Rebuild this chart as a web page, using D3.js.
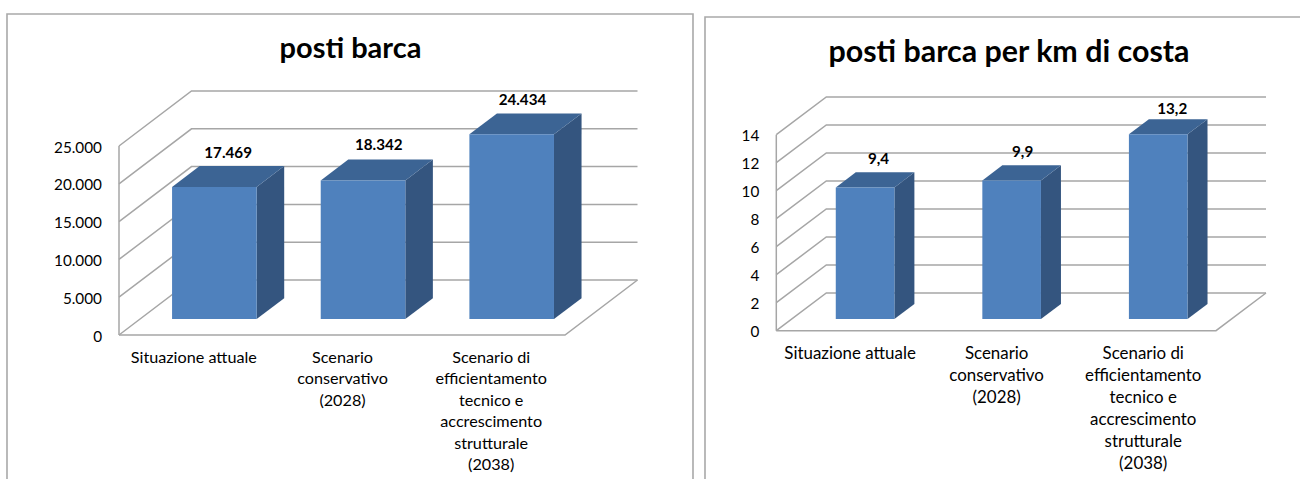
<!DOCTYPE html>
<html><head><meta charset="utf-8">
<style>html,body{margin:0;padding:0;background:#fff}svg{display:block}text{font-family:Lato,"Open Sans",sans-serif;fill:#000}</style>
<script src="https://cdn.jsdelivr.net/npm/d3@7"></script></head>
<body><svg id="c" width="1300" height="479"></svg>
<script>
const categories=["Situazione attuale","Scenario conservativo (2028)","Scenario di efficientamento tecnico e accrescimento strutturale (2038)"];
const categoryLines=[["Situazione attuale"],["Scenario","conservativo","(2028)"],["Scenario di","efficientamento","tecnico e","accrescimento","strutturale","(2038)"]];
const postiBarca=[17469,18342,24434];
const postiBarcaKm=[9.4,9.9,13.2];
const ticksLeft=[0,5000,10000,15000,20000,25000];
const ticksRight=[0,2,4,6,8,10,12,14];
const itInt=d3.formatLocale({decimal:",",thousands:".",grouping:[3],currency:["€",""]});
const fmtInt=itInt.format(",.0f"), fmtDec=itInt.format(".1f");
const svg=d3.select("#c");
const GRID="#a6a6a6",FRONT="#4f81bd",TOP="#3c6494",SIDE="#34557f";

function panel(o){
  const g=svg.append("g");
  g.append("path").attr("d",`M${o.frame[0]},479V${o.frame[1]}H${o.frame[2]}V479`).attr("fill","none").attr("stroke","#a9a9a9").attr("stroke-width",1.6);
  g.append("text").attr("x",o.titleX).attr("y",o.titleY).attr("text-anchor","middle").attr("font-size",o.titleSize).attr("font-weight",700).text(o.title);
  const x=d3.scaleBand().domain(categories).range([o.x0,o.x1]).paddingInner(o.pad).paddingOuter(o.pad/2);
  const y=d3.scaleLinear().domain(o.domain).range([o.y0,o.yTop]);
  const px=(sx,z)=>sx+z*o.dx, py=(sy,z)=>sy-z*o.dy;
  const line=d3.line();
  const stroke=(pts,w)=>g.append("path").attr("d",line(pts)).attr("fill","none").attr("stroke",GRID).attr("stroke-width",w||1.5);
  stroke([[o.x0,y(o.domain[1])],[o.x0,o.y0]]);
  o.ticks.forEach(t=>{
    const yy=y(t);
    stroke([[o.x0,yy],[px(o.x0,1),py(yy,1)],[px(o.x1,1),py(yy,1)]]);
    g.append("text").attr("x",o.x0-17).attr("y",yy+6.5).attr("text-anchor","end").attr("font-size",15.3).text(o.tickFmt(t));
  });
  stroke([[o.x0,o.y0],[o.x1,o.y0],[px(o.x1,1),py(o.y0,1)]]);
  const poly=(pts,f)=>g.append("path").attr("d",line(pts)+"Z").attr("fill",f);
  o.values.forEach((v,i)=>{
    const c=categories[i],l=x(c),r=l+x.bandwidth(),t=y(v),b=o.y0;
    const X=px,Y=py,z0=o.z0,z1=o.z1;
    poly([[X(r,z0),Y(t,z0)],[X(r,z1),Y(t,z1)],[X(r,z1),Y(b,z1)],[X(r,z0),Y(b,z0)]],SIDE);
    poly([[X(l,z0),Y(t,z0)],[X(l,z1),Y(t,z1)],[X(r,z1),Y(t,z1)],[X(r,z0),Y(t,z0)]],TOP);
    poly([[X(l,z0),Y(t,z0)],[X(r,z0),Y(t,z0)],[X(r,z0),Y(b,z0)],[X(l,z0),Y(b,z0)]],FRONT);
    g.append("text").attr("x",(X(l,z0)+X(r,z1))/2+o.valDx[i]).attr("y",Y(t,z1)-o.valGap[i]).attr("text-anchor","middle").attr("font-size",15.2).attr("font-weight",700).text(o.valFmt(v));
    categoryLines[i].forEach((s,k)=>{
      g.append("text").attr("x",l+x.bandwidth()/2+o.catDx).attr("y",o.catY+k*o.catStep).attr("text-anchor","middle").attr("font-size",o.catSize).text(s);
    });
  });
}
panel({frame:[7,14,693],title:"posti barca",titleX:350.5,titleY:58,titleSize:29,x0:119,x1:565,y0:335,yTop:146,dx:72.5,dy:55,z0:.29,z1:.67,pad:.431,domain:[0,25000],ticks:ticksLeft,values:postiBarca,tickFmt:fmtInt,valFmt:fmtInt,valDx:[0,2,-3],valGap:[8.5,9.7,8.4],catDx:0.5,catY:363,catStep:21.4,catSize:16.2});
panel({frame:[705,17,1310],title:"posti barca per km di costa",titleX:1009,titleY:62,titleSize:30.4,x0:776.3,x1:1216,y0:330.7,yTop:134.7,dx:50,dy:37.7,z0:.31,z1:.71,pad:.6,domain:[0,14],ticks:ticksRight,values:postiBarcaKm,tickFmt:d=>d,valFmt:fmtDec,valDx:[3.5,1,4],valGap:[8.7,8.7,5],catDx:0.5,catY:359,catStep:21.9,catSize:16.9});
</script></body></html>
